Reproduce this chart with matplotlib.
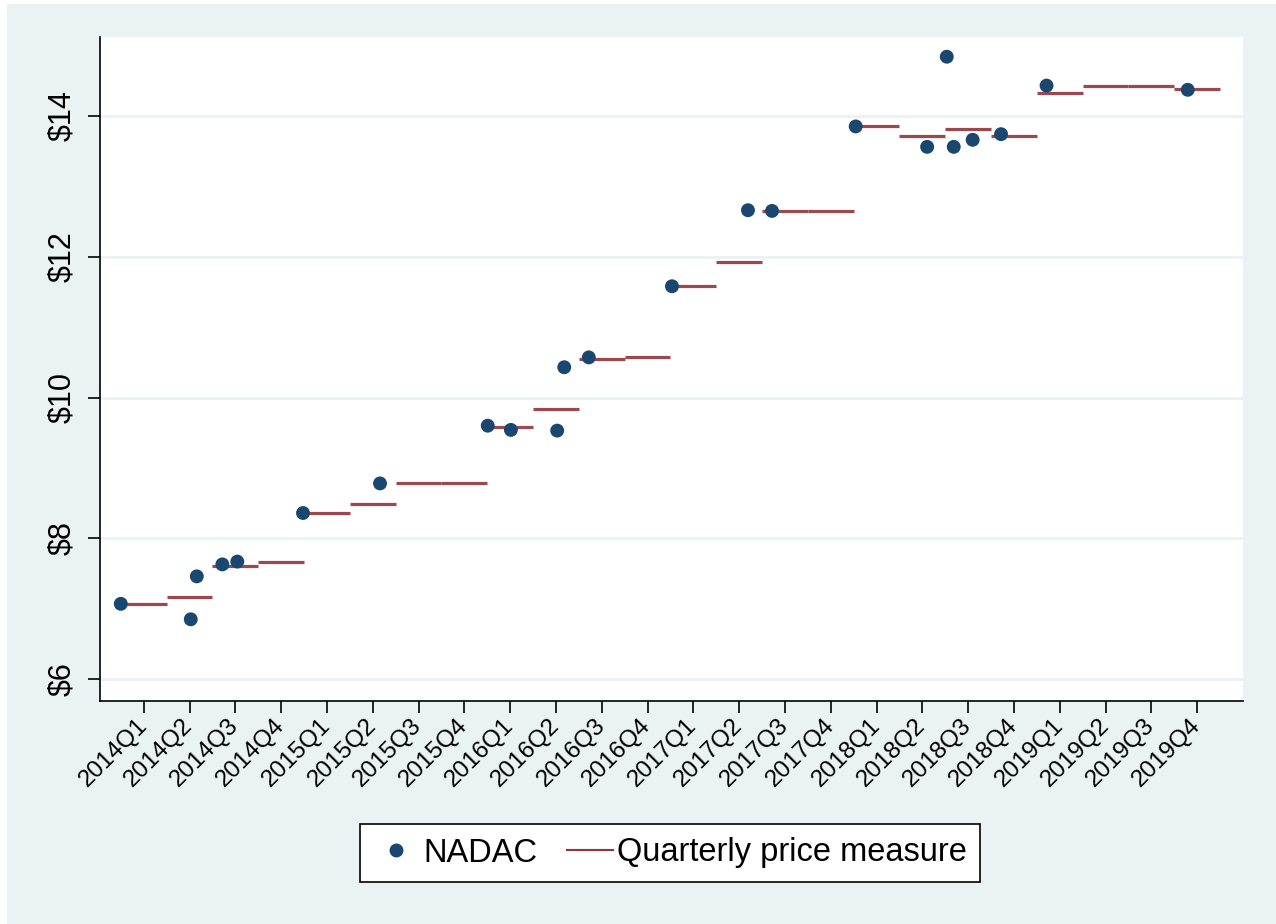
import matplotlib
matplotlib.use("Agg")
import matplotlib.pyplot as plt
import pandas as pd
from matplotlib.lines import Line2D
from matplotlib.patches import Rectangle

# Quarterly price measure, one value per quarter
quarters = [f"{y}Q{q}" for y in range(2014, 2020) for q in range(1, 5)]
quarterly_price = [7.07, 7.17, 7.61, 7.67,
                   8.36, 8.49, 8.78, 8.78,
                   9.58, 9.84, 10.54, 10.57,
                   11.58, 11.93, 12.65, 12.65,
                   13.85, 13.72, 13.81, 13.72,
                   14.32, 14.43, 14.43, 14.38]

# NADAC observations (effective dates and unit prices)
nadac_dates = ["2014-01-01", "2014-05-19", "2014-05-31", "2014-07-21", "2014-08-20",
               "2014-12-30", "2015-05-31", "2016-01-02", "2016-02-17", "2016-05-19",
               "2016-06-02", "2016-07-21", "2017-01-04", "2017-06-03", "2017-07-21",
               "2018-01-05", "2018-05-26", "2018-07-04", "2018-07-18", "2018-08-25",
               "2018-10-21", "2019-01-20", "2019-10-28"]
nadac_price = [7.07, 6.85, 7.46, 7.63, 7.67,
               8.36, 8.78, 9.60, 9.54, 9.53,
               10.43, 10.57, 11.58, 12.66, 12.65,
               13.85, 13.56, 14.84, 13.56, 13.66,
               13.74, 14.43, 14.37]

y_ticks = [6, 8, 10, 12, 14]

NAVY = "#1A476F"
MAROON = "#90353B"
BG = "#EAF2F3"


def quarter_position(dates):
    # quarter i is centred on i, running from i-0.5 to i+0.5
    d = pd.to_datetime(pd.Series(dates))
    per = d.dt.to_period("Q")
    start = per.dt.start_time
    end = per.dt.end_time
    frac = (d - start) / (end - start)
    return (per.dt.year - 2014) * 4 + per.dt.quarter - 1 - 0.5 + frac


plt.rcParams["font.family"] = ["Liberation Sans", "DejaVu Sans"]

fig = plt.figure(figsize=(12.76, 9.24), dpi=100, facecolor="white")
fig.patches.append(Rectangle((7 / 1276, 0), 1, 1 - 4 / 924, transform=fig.transFigure,
                             facecolor=BG, edgecolor="none", zorder=-10))
ax = fig.add_axes([100 / 1276, 223 / 924, 1143 / 1276, 664 / 924])
ax.set_facecolor("white")

for i, v in enumerate(quarterly_price):
    ax.plot([i - 0.5, i + 0.5], [v, v], color=MAROON, lw=2.3, alpha=0.9,
            solid_capstyle="butt", zorder=3)

ax.scatter(quarter_position(nadac_dates), nadac_price, s=100, color=NAVY,
           edgecolors="none", zorder=4)

ax.set_xlim(-0.954, 24.0)
ax.set_ylim(5.69, 15.12)

ax.set_yticks(y_ticks)
ax.set_yticklabels([f"${t}" for t in y_ticks], rotation=90, va="center", fontsize=22)
ax.yaxis.grid(True, color=BG, lw=2)
ax.set_axisbelow(True)

ax.set_xticks(range(len(quarters)))
ax.set_xticklabels(quarters, rotation=45, ha="right", va="center",
                   rotation_mode="anchor", fontsize=17.5)

ax.tick_params(axis="both", length=8.5, width=1.2, color="black")
ax.tick_params(axis="x", pad=7)
ax.tick_params(axis="y", pad=8)
for side in ["top", "right"]:
    ax.spines[side].set_visible(False)
for side in ["left", "bottom"]:
    ax.spines[side].set_linewidth(1.2)

handles = [Line2D([], [], marker="o", ls="none", color=NAVY, markersize=9),
           Line2D([], [], color=MAROON, lw=1.5)]
leg = fig.legend(handles, ["NADAC", "Quarterly price measure"], loc="center",
                 bbox_to_anchor=(670 / 1276, 1 - 853 / 924), ncol=2, fontsize=23.5,
                 frameon=True, fancybox=False, edgecolor="black", facecolor="white",
                 framealpha=1, handlelength=1.4, handletextpad=0.15, columnspacing=0.9,
                 borderpad=0.4, borderaxespad=0)
leg.get_frame().set_linewidth(1.2)

fig.savefig("out.png", dpi=100, facecolor=fig.get_facecolor())
